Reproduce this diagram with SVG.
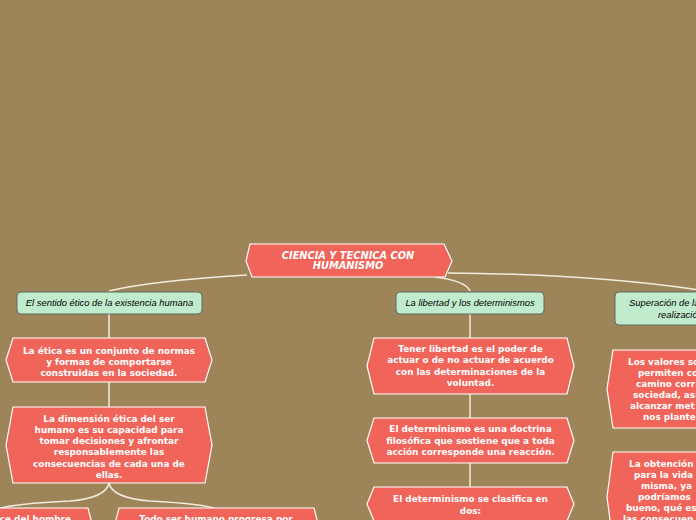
<svg xmlns="http://www.w3.org/2000/svg" width="696" height="520" viewBox="0 0 696 520">
<style>
.bg{fill:#9E8559}
.red{fill:#F0645A;stroke:#FFFFFF;stroke-width:1.2}
.green{fill:#C0EBCC;stroke:#5F6B60;stroke-width:1}
.rt{font-family:"DejaVu Sans",Verdana,sans-serif;font-weight:bold;font-size:8.9px;fill:#FFFFFF;text-anchor:middle}
.rts{font-family:"DejaVu Sans",Verdana,sans-serif;font-weight:bold;font-size:8.9px;fill:#FFFFFF}
.root{font-family:"DejaVu Sans",Verdana,sans-serif;font-weight:bold;font-style:italic;font-size:9.8px;fill:#FFFFFF;text-anchor:middle}
.gt{font-family:"Liberation Sans",Arial,sans-serif;font-style:italic;font-size:9.4px;fill:#000000;text-anchor:middle}
.gts{font-family:"Liberation Sans",Arial,sans-serif;font-style:italic;font-size:9.4px;fill:#000000}
.conn{fill:none;stroke:#F1ECDE;stroke-width:1.5}
</style>
<rect class="bg" x="0" y="0" width="696" height="520"/>
<g id="connectors">
<path class="conn" d="M247 275 Q150 281 109 291"/>
<path class="conn" d="M435 277 Q466 281 470 291"/>
<path class="conn" d="M448 273 Q610 274 730 295"/>
<path class="conn" d="M109 313 L109 338"/>
<path class="conn" d="M109 382 L109 407"/>
<path class="conn" d="M109 483 Q112 498 150 501 Q205 504 216 509"/>
<path class="conn" d="M109 483 Q106 498 70 501 Q10 504 -2 509"/>
<path class="conn" d="M470 313 L470 338"/>
<path class="conn" d="M470 394 L470 418"/>
<path class="conn" d="M470 463 L470 487"/>
<path class="conn" d="M710 325 L710 350"/>
<path class="conn" d="M710 428 L710 452"/>
</g>
<g id="root">
<polygon class="red" points="250,244 444,244 452,261 445,277 252,277 246,261"/>
<text class="root" x="348" y="258.5">CIENCIA Y TECNICA CON</text>
<text class="root" x="348" y="269">HUMANISMO</text>
</g>
<g id="n1">
<rect class="green" x="17" y="292" width="185" height="22" rx="4"/>
<text class="gt" x="109.5" y="305.5">El sentido ético de la existencia humana</text>
</g>
<g id="n2">
<rect class="green" x="396" y="292" width="148" height="22" rx="4"/>
<text class="gt" x="470" y="305.5">La libertad y los determinismos</text>
</g>
<g id="n3">
<rect class="green" x="615" y="292" width="190" height="33" rx="4"/>
<text class="gts" x="629" y="306">Superación de la</text>
<text class="gts" x="658" y="317.5">realización</text>
</g>
<g id="a1">
<polygon class="red" points="13,338 205,338 212,360 205,382 13,382 6,360"/>
<text class="rt" x="109" y="353.5">La ética es un conjunto de normas</text>
<text class="rt" x="109" y="364.8">y formas de comportarse</text>
<text class="rt" x="109" y="376">construidas en la sociedad.</text>
</g>
<g id="a2">
<polygon class="red" points="13,407 205,407 212,445 205,483 13,483 6,445"/>
<text class="rt" x="109" y="421.5">La dimensión ética del ser</text>
<text class="rt" x="109" y="432.8">humano es su capacidad para</text>
<text class="rt" x="109" y="444">tomar decisiones y afrontar</text>
<text class="rt" x="109" y="455.3">responsablemente las</text>
<text class="rt" x="109" y="466.5">consecuencias de cada una de</text>
<text class="rt" x="109" y="477.8">ellas.</text>
</g>
<g id="a3">
<polygon class="red" points="-110,508 88,508 95,535 88,562 -110,562 -117,535"/>
<text class="rts" x="71" y="522" text-anchor="end">ce del hombre</text>
</g>
<g id="a4">
<polygon class="red" points="119,508 314,508 321,535 314,562 119,562 112,535"/>
<text class="rt" x="216" y="522">Todo ser humano progresa por</text>
</g>
<g id="b1">
<polygon class="red" points="374,338 567,338 574,366 567,394 374,394 367,366"/>
<text class="rt" x="470.5" y="351.7">Tener libertad es el poder de</text>
<text class="rt" x="470.5" y="363.2">actuar o de no actuar de acuerdo</text>
<text class="rt" x="470.5" y="374.7">con las determinaciones de la</text>
<text class="rt" x="470.5" y="386.2">voluntad.</text>
</g>
<g id="b2">
<polygon class="red" points="374,418 567,418 574,440.5 567,463 374,463 367,440.5"/>
<text class="rt" x="470.5" y="432.3">El determinismo es una doctrina</text>
<text class="rt" x="470.5" y="443.8">filosófica que sostiene que a toda</text>
<text class="rt" x="470.5" y="455.3">acción corresponde una reacción.</text>
</g>
<g id="b3">
<polygon class="red" points="374,487 567,487 574,504 567,521 374,521 367,504"/>
<text class="rt" x="470.5" y="502.3">El determinismo se clasifica en</text>
<text class="rt" x="470.5" y="513.8">dos:</text>
</g>
<g id="c1">
<polygon class="red" points="613,350 807,350 813,389 807,428 613,428 607,389"/>
<text class="rts" x="628" y="365.3">Los valores so</text>
<text class="rts" x="638" y="376.3">permiten co</text>
<text class="rts" x="636" y="387.3">camino corr</text>
<text class="rts" x="633" y="398.3">sociedad, así</text>
<text class="rts" x="630" y="409.3">alcanzar met</text>
<text class="rts" x="643" y="420.3">nos plante</text>
</g>
<g id="c2">
<polygon class="red" points="613,452 807,452 813,497 807,542 613,542 607,497"/>
<text class="rts" x="629" y="467.3">La obtención</text>
<text class="rts" x="634" y="478.3">para la vida</text>
<text class="rts" x="641" y="489.3">misma, ya</text>
<text class="rts" x="638" y="500.3">podríamos</text>
<text class="rts" x="626" y="511.3">bueno, qué es</text>
<text class="rts" x="623" y="522">las consecuen</text>
</g>
</svg>
